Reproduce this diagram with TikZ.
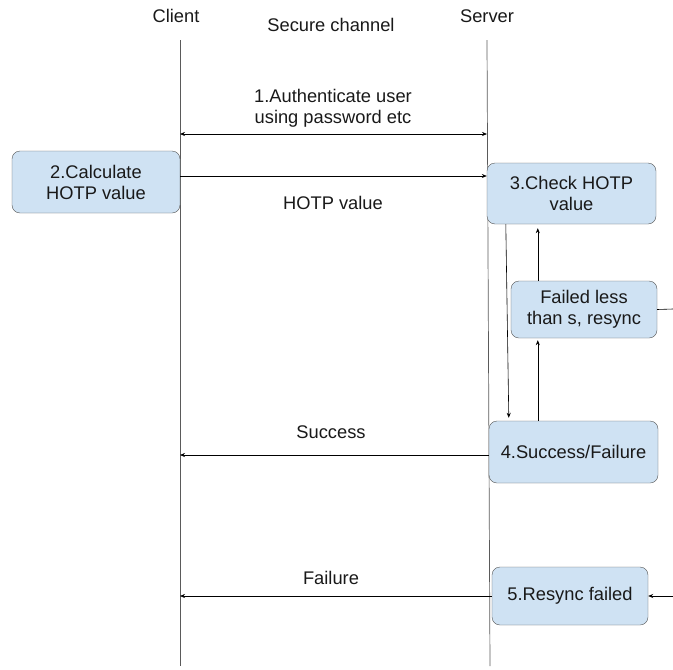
\documentclass[tikz,border=0pt]{standalone}
\usepackage{fontspec}
\setmainfont{Liberation Sans}
\usetikzlibrary{arrows.meta}

\definecolor{boxfill}{RGB}{207,226,243}
\definecolor{boxline}{RGB}{85,85,85}
\definecolor{lifeline}{RGB}{90,90,90}

\begin{document}
\begin{tikzpicture}[x=1pt, y=-1pt,
  every node/.style={font=\fontsize{18.3}{21}\selectfont, text=black!90},
  stepbox/.style={draw=boxline, fill=boxfill, rounded corners=8pt, align=center, inner sep=0pt},
  lbl/.style={align=center, inner sep=0pt},
  msg/.style={-{Stealth[length=5pt,width=4pt]}, line width=0.6pt},
  msgboth/.style={{Stealth[length=5pt,width=4pt]}-{Stealth[length=5pt,width=4pt]}, line width=0.6pt},
  life/.style={draw=lifeline, line width=0.7pt}]
  \useasboundingbox (0,0) rectangle (673,670);

  % Draw the headings
  \node[lbl] (client) at (176,16) {Client};
  \node[lbl] (server) at (487,16) {Server};
  \node[lbl] (chan) at (331,25) {Secure channel};

  % Draw the lifelines
  \coordinate (ctop) at (180,40);
  \coordinate (cbot) at (180,666);
  \coordinate (stop) at (487,40);
  \coordinate (sbot) at (490,666);
  \draw[life] (ctop) -- (cbot);
  \draw[life] (stop) -- (sbot);

  % Draw the boxes
  \node[stepbox, minimum width=168, minimum height=62] (calc) at (96,182) {2.Calculate\\HOTP value};
  \node[stepbox, minimum width=169, minimum height=61] (check) at (571.5,193.5) {3.Check HOTP\\value};
  \node[stepbox, minimum width=146, minimum height=57] (resync) at (584,309.5) {Failed less\\than s, resync};
  \node[stepbox, minimum width=169, minimum height=62] (result) at (573.5,452) {4.Success/Failure};
  \node[stepbox, minimum width=156, minimum height=58] (fail) at (570,596) {5.Resync failed};

  % Draw the messages
  \coordinate (authL) at (180,134);
  \coordinate (authR) at (487,134);
  \coordinate (succL) at (180,455);
  \coordinate (failL) at (180,596);
  \coordinate (edgeR) at (673,309);
  \coordinate (edgeF) at (673,596);
  \node[lbl] (authtext) at (333,108) {1.Authenticate user\\using password etc};
  \node[lbl] (hotptext) at (333,203) {HOTP value};
  \node[lbl] (succtext) at (331,432) {Success};
  \node[lbl] (failtext) at (331,578) {Failure};
  \draw[msgboth] (authL) -- (authR);
  \draw[msg] ([yshift=6pt]calc.east) -- ([yshift=6pt]calc.east -| check.west);
  \draw[msg] (result.west |- succL) -- (succL);
  \draw[msg] (fail.west) -- (failL);
  \draw[msg] (edgeF) -- (fail.east);
  \draw[line width=0.6pt] (resync.east) -- (edgeR);

  % Draw the checks between the server boxes
  \draw[msg] ([xshift=19pt]check.south west) -- ([xshift=20pt, yshift=3pt]result.north west);
  \draw[msg, shorten >=4pt] ([xshift=27pt]resync.north west) -- ([xshift=27pt]resync.north west |- check.south);
  \draw[msg, shorten >=2pt] ([xshift=27pt]resync.south west |- result.north) -- ([xshift=27pt]resync.south west);
\end{tikzpicture}
\end{document}
